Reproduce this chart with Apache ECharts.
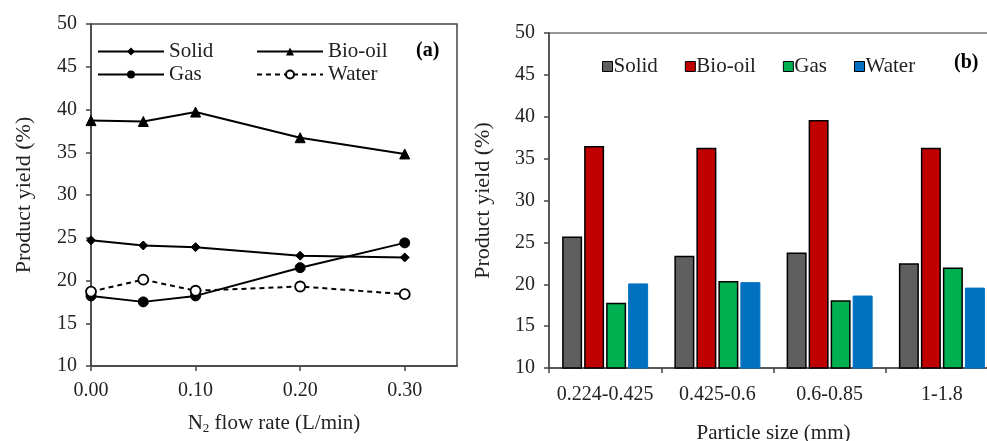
<!DOCTYPE html>
<html>
<head>
<meta charset="utf-8">
<script src="https://cdn.jsdelivr.net/npm/echarts@6/dist/echarts.min.js"></script>
<style>
html,body{margin:0;padding:0;background:#fff;}
#wrap{position:relative;width:987px;height:441px;overflow:hidden;}
#c1{position:absolute;left:0;top:0;width:470px;height:441px;}
#c2{position:absolute;left:470px;top:0;width:560px;height:441px;}
</style>
</head>
<body>
<div id="wrap"><div id="c1"></div><div id="c2"></div></div>
<script>
// ---- Panel (a): product yield vs N2 flow rate ----
var flowRates = [0, 0.05, 0.1, 0.2, 0.3];
var lineSolid = [24.7, 24.1, 23.9, 22.9, 22.7];
var lineBioOil = [38.7, 38.6, 39.7, 36.7, 34.8];
var lineGas = [18.2, 17.5, 18.2, 21.5, 24.4];
var lineWater = [18.7, 20.1, 18.8, 19.3, 18.4];

// ---- Panel (b): product yield vs particle size ----
var particleSizes = ['0.224-0.425', '0.425-0.6', '0.6-0.85', '1-1.8'];
var barSolid = [25.7, 23.4, 23.8, 22.5];
var barBioOil = [36.5, 36.3, 39.6, 36.3];
var barGas = [17.8, 20.4, 18.1, 22.0];
var barWater = [20.1, 20.25, 18.65, 19.6];

var FONT = 'Liberation Serif';
var TXT = '#222';
var AX = '#444';

function pairs(xs, ys) { return xs.map(function (x, i) { return [x, ys[i]]; }); }

var c1 = echarts.init(document.getElementById('c1'));
var lineBase = { type: 'line', lineStyle: { color: '#000', width: 2 }, itemStyle: { color: '#000', borderColor: '#000' }, z: 3 };
c1.setOption({
  animation: false,
  textStyle: { fontFamily: FONT, color: TXT },
  grid: { left: 91, top: 24, width: 366, height: 342, outerBoundsMode: 'none', containLabel: false, show: true, borderColor: AX, borderWidth: 1.5, backgroundColor: 'transparent' },
  legend: [
    { orient: 'vertical', left: 92, top: 36, itemWidth: 66, itemHeight: 10, itemGap: 2,
      data: ['Solid', 'Gas'], textStyle: { fontFamily: FONT, fontSize: 21, color: TXT, lineHeight: 21 } },
    { orient: 'vertical', left: 251, top: 36, itemWidth: 66, itemHeight: 10, itemGap: 2,
      data: ['Bio-oil', 'Water'], textStyle: { fontFamily: FONT, fontSize: 21, color: TXT, lineHeight: 21 } }
  ],
  graphic: [{ type: 'text', left: 416, top: 41, style: { text: '(a)', fontFamily: FONT, fontSize: 20, fontWeight: 'bold', fill: '#000' } }],
  xAxis: {
    type: 'value', min: 0, max: 0.35, interval: 0.1,
    name: 'N{sub|2} flow rate (L/min)', nameLocation: 'middle', nameGap: 46,
    nameTextStyle: { fontFamily: FONT, fontSize: 21, color: TXT, rich: { sub: { fontFamily: FONT, fontSize: 13, color: TXT, padding: [10, 0, 0, 0] } } },
    axisLine: { show: true, lineStyle: { color: AX, width: 1.5 } },
    axisTick: { show: true, length: 5, lineStyle: { color: AX, width: 1.5 } },
    axisLabel: { fontFamily: FONT, fontSize: 20, color: TXT, margin: 15, showMaxLabel: false, formatter: function (v) { return v.toFixed(2); } },
    splitLine: { show: false }
  },
  yAxis: {
    type: 'value', min: 10, max: 50, interval: 5,
    name: 'Product yield (%)', nameLocation: 'middle', nameGap: 56,
    nameTextStyle: { fontFamily: FONT, fontSize: 22, color: TXT },
    axisLine: { show: true, lineStyle: { color: AX, width: 1.5 } },
    axisTick: { show: true, length: 5, lineStyle: { color: AX, width: 1.5 } },
    axisLabel: { fontFamily: FONT, fontSize: 20, color: TXT, margin: 14 },
    splitLine: { show: false }
  },
  series: [
    Object.assign({}, lineBase, { name: 'Solid', symbol: 'diamond', symbolSize: 9, data: pairs(flowRates, lineSolid) }),
    Object.assign({}, lineBase, { name: 'Bio-oil', symbol: 'triangle', symbolSize: 10, data: pairs(flowRates, lineBioOil) }),
    Object.assign({}, lineBase, { name: 'Gas', symbol: 'circle', symbolSize: 10, data: pairs(flowRates, lineGas) }),
    Object.assign({}, lineBase, { name: 'Water', symbol: 'circle', symbolSize: 10,
      lineStyle: { color: '#000', width: 2, type: [5, 4] },
      itemStyle: { color: '#fff', borderColor: '#000', borderWidth: 1.8 },
      data: pairs(flowRates, lineWater) })
  ]
});

var c2 = echarts.init(document.getElementById('c2'));
var barBase = { type: 'bar', barWidth: 20, barGap: '10%' };
c2.setOption({
  animation: false,
  textStyle: { fontFamily: FONT, color: TXT },
  grid: { left: 79, top: 33, width: 449, height: 335, outerBoundsMode: 'none', containLabel: false, show: true, borderColor: '#777', borderWidth: 1.5, backgroundColor: 'transparent' },
  legend: {
    left: 127, top: 51, itemWidth: 10, itemHeight: 10, itemGap: 27, icon: 'rect',
    itemStyle: { borderColor: '#000', borderWidth: 1 },
    data: ['Solid', 'Bio-oil', 'Gas', 'Water'],
    textStyle: { fontFamily: FONT, fontSize: 21, color: TXT, padding: [0, 0, 0, -4] }
  },
  graphic: [{ type: 'text', left: 484, top: 53, style: { text: '(b)', fontFamily: FONT, fontSize: 20, fontWeight: 'bold', fill: '#000' } }],
  xAxis: {
    type: 'category', data: particleSizes,
    name: 'Particle size (mm)', nameLocation: 'middle', nameGap: 55,
    nameTextStyle: { fontFamily: FONT, fontSize: 21, color: TXT },
    axisLine: { show: true, lineStyle: { color: AX, width: 1.5 } },
    axisTick: { show: true, length: 5, lineStyle: { color: AX, width: 1.5 } },
    axisLabel: { fontFamily: FONT, fontSize: 20, color: TXT, margin: 17, interval: 0 }
  },
  yAxis: {
    type: 'value', min: 10, max: 50, interval: 5,
    name: 'Product yield (%)', nameLocation: 'middle', nameGap: 55,
    nameTextStyle: { fontFamily: FONT, fontSize: 22, color: TXT },
    axisLine: { show: true, lineStyle: { color: AX, width: 1.5 } },
    axisTick: { show: true, length: 5, lineStyle: { color: AX, width: 1.5 } },
    axisLabel: { fontFamily: FONT, fontSize: 20, color: TXT, margin: 14 },
    splitLine: { show: false }
  },
  series: [
    Object.assign({}, barBase, { name: 'Solid', data: barSolid, itemStyle: { color: '#5f5f5f', borderColor: '#000', borderWidth: 1.5 } }),
    Object.assign({}, barBase, { name: 'Bio-oil', data: barBioOil, itemStyle: { color: '#c00000', borderColor: '#000', borderWidth: 1.5 } }),
    Object.assign({}, barBase, { name: 'Gas', data: barGas, itemStyle: { color: '#00b050', borderColor: '#000', borderWidth: 1.5 } }),
    Object.assign({}, barBase, { name: 'Water', data: barWater, itemStyle: { color: '#0070c0', borderColor: '#0070c0', borderWidth: 1 } })
  ]
});
</script>
</body>
</html>
